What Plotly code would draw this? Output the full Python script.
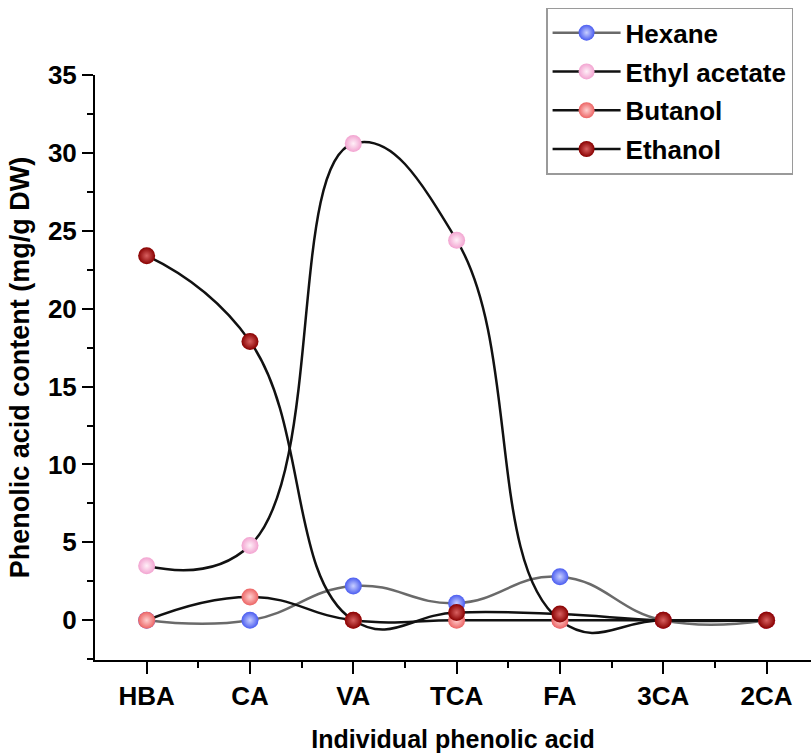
import plotly.graph_objects as go

# Phenolic acids measured in each solvent extract (mg/g DW)
acids = ["HBA", "CA", "VA", "TCA", "FA", "3CA", "2CA"]
hexane = [0, 0, 2.2, 1.1, 2.8, 0, 0]
ethyl_acetate = [3.5, 4.8, 30.6, 24.4, 0, 0, 0]
butanol = [0, 1.5, 0, 0, 0, 0, 0]
ethanol = [23.4, 17.9, 0, 0.5, 0.4, 0, 0]

positions = list(range(len(acids)))

FONT = "Liberation Sans, Arial, sans-serif"

# name, values, sphere edge colour, highlight colour, line colour
series = [
    ("Hexane", hexane, "#4a5cf0", "#c8cfff", "#6a6a6a"),
    ("Ethyl acetate", ethyl_acetate, "#f2a3d0", "#fff0f8", "#111111"),
    ("Butanol", butanol, "#ec6464", "#ffd0d0", "#111111"),
    ("Ethanol", ethanol, "#880000", "#d86060", "#111111"),
]

fig = go.Figure()
for name, values, edge, glow, line_col in series:
    fig.add_trace(go.Scatter(
        x=positions,
        y=values,
        name=name,
        legendgroup=name,
        mode="lines+markers",
        line=dict(color=line_col, width=2.5, shape="spline", smoothing=1.3),
        marker=dict(
            size=17,
            color=edge,
            gradient=dict(type="radial", color=glow),
            line=dict(width=0),
        ),
    ))

fig.update_layout(
    width=811,
    height=755,
    margin=dict(l=95, r=0, t=75, b=95),
    paper_bgcolor="white",
    plot_bgcolor="white",
    font=dict(family=FONT, size=26, color="black", weight="bold"),
    showlegend=True,
    legend=dict(
        x=0.63, y=1.115, xanchor="left", yanchor="top",
        bgcolor="white", bordercolor="#9a9a9a", borderwidth=1.5,
        font=dict(family=FONT, size=26, color="black", weight="bold"),
        tracegroupgap=2,
        itemwidth=68,
    ),
)

fig.update_xaxes(
    range=[-0.5, 6.43],
    tickmode="array",
    tickvals=positions,
    ticktext=acids,
    ticks="outside", ticklen=12, tickwidth=2, tickcolor="black",
    minor=dict(ticks="outside", ticklen=6, tickwidth=2, tickcolor="black",
               tickvals=[p + 0.5 for p in positions]),
    showline=True, linecolor="black", linewidth=2,
    showgrid=False, zeroline=False,
    tickfont=dict(family=FONT, size=26, weight="bold"),
    title=dict(text="Individual phenolic acid",
               font=dict(family=FONT, size=25, weight="bold"), standoff=20),
)

fig.update_yaxes(
    range=[-2.55, 35],
    tickmode="linear", tick0=0, dtick=5,
    ticks="outside", ticklen=11, tickwidth=2, tickcolor="black",
    minor=dict(ticks="outside", ticklen=6, tickwidth=2, tickcolor="black", dtick=2.5, tick0=0),
    showline=True, linecolor="black", linewidth=2,
    showgrid=False, zeroline=False,
    tickfont=dict(family=FONT, size=26, weight="bold"),
    title=dict(text="Phenolic acid content (mg/g DW)",
               font=dict(family=FONT, size=27, weight="bold"), standoff=10),
)

fig.write_html("out.html")
